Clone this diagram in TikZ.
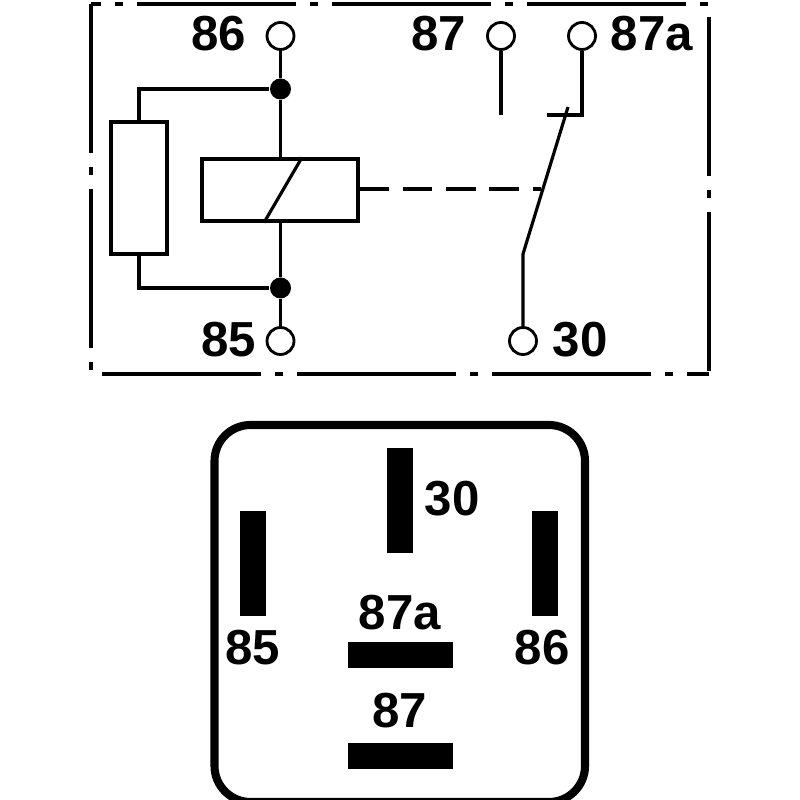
\documentclass[tikz,border=0pt]{standalone}
\usepackage{fontspec}
\setmainfont{Liberation Sans}
\tikzset{
 wire/.style={line width=0.9pt},
 framedash/.style={line width=0.9pt, dash pattern=on 45.2pt off 4pt on 2.3pt off 4pt},
 terminal/.style={circle, draw, line width=0.8pt, fill=white, minimum size=0.27cm, inner sep=0pt},
 junction/.style={circle, fill=black, minimum size=0.21cm, inner sep=0pt},
 pin/.style={fill=black, draw=none, inner sep=0pt},
 lbl/.style={font=\fontsize{14pt}{15pt}\selectfont\bfseries, inner sep=0pt}
}
\begin{document}
\begin{tikzpicture}
\useasboundingbox (0,0) rectangle (8,8);

%Rahmen
\draw[framedash, dash phase=42.4pt] (0.91,7.96) -- (7.09,7.96);
\draw[framedash, dash phase=2.8pt] (0.91,7.96) -- (0.91,4.26);
\draw[framedash, dash phase=51.8pt] (7.09,7.96) -- (7.09,4.26);
\draw[framedash, dash phase=52.4pt] (0.91,4.26) -- (7.09,4.26);

%Anschluesse
\node[terminal] (t86) at (2.805,7.64) {};
\node[terminal] (t85) at (2.805,4.59) {};
\node[terminal] (t87) at (5.01,7.64) {};
\node[terminal] (t87a) at (5.82,7.64) {};
\node[terminal] (t30) at (5.23,4.59) {};
\node[lbl] (l86) at (2.19,7.66) {86};
\node[lbl] (l85) at (2.29,4.6) {85};
\node[lbl] (l87) at (4.39,7.66) {87};
\node[lbl] (l87a) at (6.52,7.66) {87a};
\node[lbl] (l30) at (5.80,4.6) {30};

%Spule und Widerstand
\node[draw, wire, minimum width=1.56cm, minimum height=0.62cm, inner sep=0pt] (coil) at (2.8,6.1) {};
\node[draw, wire, minimum width=0.56cm, minimum height=1.32cm, inner sep=0pt] (res) at (1.39,6.12) {};
\node[junction] (j86) at (2.805,7.11) {};
\node[junction] (j85) at (2.805,5.12) {};
\draw[wire] (t86) -- (j86) -- (j86 |- coil.north);
\draw[wire] (t85) -- (j85) -- (j85 |- coil.south);
\draw[wire] (res.north) |- (j86);
\draw[wire] (res.south) |- (j85);
\draw[wire] ([xshift=-0.16cm]coil.south) -- ([xshift=0.22cm]coil.north);

%Schalter
\coordinate (knee) at (5.23,5.46);
\coordinate (tip) at (5.68,6.93);
\coordinate (c87) at (5.01,6.85);
\coordinate (c87a) at (5.82,6.85);
\coordinate (rest) at (5.47,6.85);
\coordinate (link) at (5.41,6.11);
\draw[wire] (t30) -- (knee) -- (tip);
\draw[wire] (t87) -- (c87);
\draw[wire] (t87a) -- (c87a) -- (rest);
\draw[wire, dash pattern=on 8.4pt off 3.9pt] (coil.east |- link) -- (link);

%Gehaeuse
\draw[line width=2.3pt, rounded corners=0.36cm] (2.145,-0.02) rectangle (5.85,3.75);
\node[pin, minimum width=0.26cm, minimum height=1.05cm] (p30) at (4.0,2.99) {};
\node[pin, minimum width=0.26cm, minimum height=1.05cm] (p85) at (2.53,2.36) {};
\node[pin, minimum width=0.26cm, minimum height=1.05cm] (p86) at (5.45,2.36) {};
\node[pin, minimum width=1.05cm, minimum height=0.26cm] (p87a) at (4.0,1.45) {};
\node[pin, minimum width=1.05cm, minimum height=0.26cm] (p87) at (4.0,0.44) {};
\node[lbl] (b30) at (4.52,3.01) {30};
\node[lbl] (b85) at (2.53,1.52) {85};
\node[lbl] (b86) at (5.42,1.52) {86};
\node[lbl] (b87a) at (4.0,1.87) {87a};
\node[lbl] (b87) at (4.0,0.89) {87};
\end{tikzpicture}
\end{document}
